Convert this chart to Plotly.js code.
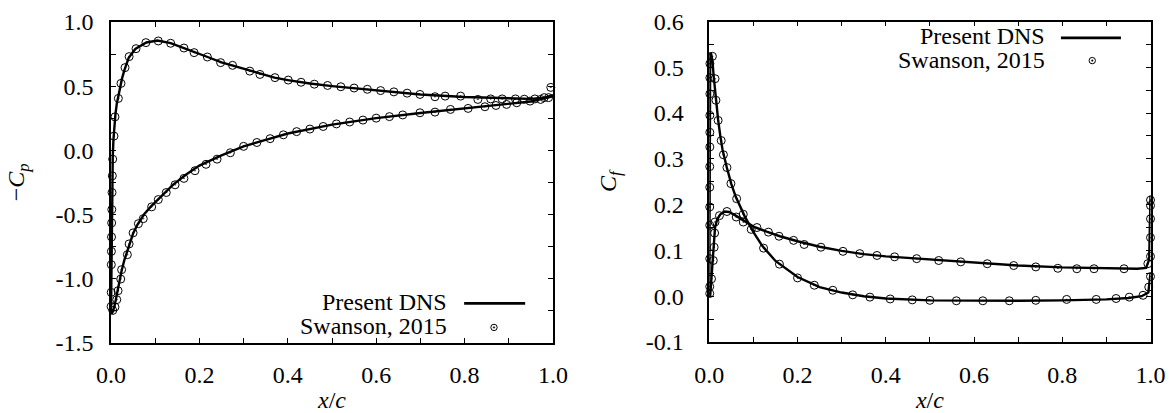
<!DOCTYPE html>
<html>
<head>
<meta charset="utf-8">
<script src="https://cdn.plot.ly/plotly-3.0.1.min.js"></script>
<style>
html,body{margin:0;padding:0;background:#fff;}
#chart text, #chart tspan { font-family: "Liberation Serif", "Times New Roman", serif !important; }
</style>
</head>
<body>
<div id="chart" style="width:1169px;height:413px"></div>
<script>
// ---------- Left panel: -Cp ----------
const cpUpperX = [0, 0.0003, 0.0006, 0.001, 0.0015, 0.0022, 0.003, 0.004, 0.0055, 0.0075, 0.01, 0.013, 0.017, 0.02, 0.025, 0.03, 0.04, 0.055, 0.08, 0.105, 0.135, 0.165, 0.19, 0.22, 0.25, 0.28, 0.31, 0.34, 0.37, 0.4, 0.45, 0.5, 0.6, 0.7, 0.8, 0.9, 0.95, 0.98, 1.0];
const cpUpperV = [-1.27, -1.15, -0.95, -0.75, -0.55, -0.35, -0.18, -0.05, 0.08, 0.18, 0.28, 0.36, 0.43, 0.48, 0.56, 0.62, 0.72, 0.79, 0.84, 0.855, 0.835, 0.797, 0.762, 0.725, 0.685, 0.655, 0.62, 0.59, 0.566, 0.547, 0.52, 0.5, 0.465, 0.435, 0.415, 0.402, 0.40, 0.41, 0.43];
const cpLowerX = [0, 0.002, 0.004, 0.006, 0.009, 0.013, 0.018, 0.024, 0.03, 0.04, 0.05, 0.06, 0.075, 0.09, 0.11, 0.14, 0.17, 0.2, 0.25, 0.3, 0.35, 0.4, 0.5, 0.6, 0.7, 0.8, 0.9, 0.95, 1.0];
const cpLowerV = [-1.27, -1.27, -1.26, -1.24, -1.2, -1.13, -1.03, -0.94, -0.86, -0.75, -0.65, -0.58, -0.5, -0.44, -0.37, -0.27, -0.19, -0.12, -0.04, 0.03, 0.08, 0.13, 0.2, 0.25, 0.29, 0.325, 0.36, 0.38, 0.42];

const swCpUpperX = [0.0002, 0.0004, 0.0007, 0.0009, 0.0012, 0.0015, 0.0018, 0.0023, 0.003, 0.0038, 0.0068, 0.009, 0.0166, 0.0226, 0.0317, 0.041, 0.0566, 0.079, 0.107, 0.135, 0.165, 0.188, 0.218, 0.248, 0.275, 0.314, 0.337, 0.371, 0.401, 0.43, 0.46, 0.49, 0.52, 0.55, 0.58, 0.61, 0.64, 0.67, 0.699, 0.733, 0.756, 0.791, 0.83, 0.859, 0.885, 0.915, 0.935, 0.959, 0.98, 0.995];
const swCpUpperV = [-1.219, -1.109, -0.893, -0.789, -0.677, -0.567, -0.463, -0.33, -0.2, -0.07, 0.11, 0.26, 0.404, 0.521, 0.644, 0.73, 0.792, 0.839, 0.852, 0.834, 0.797, 0.761, 0.727, 0.683, 0.662, 0.617, 0.591, 0.566, 0.547, 0.53, 0.515, 0.505, 0.495, 0.485, 0.475, 0.465, 0.455, 0.445, 0.435, 0.417, 0.422, 0.422, 0.396, 0.40, 0.40, 0.40, 0.398, 0.40, 0.41, 0.49];
const swCpLowerX = [0.004, 0.009, 0.013, 0.016, 0.022, 0.024, 0.037, 0.041, 0.05, 0.062, 0.073, 0.092, 0.107, 0.125, 0.145, 0.165, 0.19, 0.215, 0.24, 0.27, 0.3, 0.33, 0.36, 0.39, 0.42, 0.45, 0.48, 0.51, 0.54, 0.57, 0.6, 0.63, 0.66, 0.699, 0.733, 0.768, 0.808, 0.846, 0.871, 0.895, 0.918, 0.948, 0.972, 0.99];
const swCpLowerV = [-1.25, -1.223, -1.166, -1.096, -1.005, -0.932, -0.815, -0.731, -0.645, -0.573, -0.534, -0.442, -0.385, -0.33, -0.27, -0.22, -0.16, -0.11, -0.07, -0.02, 0.03, 0.06, 0.09, 0.12, 0.145, 0.165, 0.185, 0.205, 0.22, 0.235, 0.25, 0.262, 0.275, 0.292, 0.297, 0.318, 0.326, 0.339, 0.349, 0.357, 0.37, 0.383, 0.396, 0.41];

// ---------- Right panel: Cf ----------
const cfAX = [0, 0.0004, 0.0008, 0.0013, 0.002, 0.004, 0.007, 0.01, 0.015, 0.02, 0.025, 0.03, 0.04, 0.05, 0.06, 0.08, 0.1, 0.12, 0.15, 0.2, 0.25, 0.3, 0.35, 0.4, 0.5, 0.6, 0.7, 0.8, 0.9, 0.95, 0.98, 0.995, 1.0];
const cfAV = [0.0, 0.1, 0.25, 0.45, 0.53, 0.53, 0.515, 0.48, 0.43, 0.385, 0.35, 0.32, 0.28, 0.245, 0.217, 0.175, 0.14, 0.11, 0.077, 0.042, 0.02, 0.008, 0.0, -0.005, -0.009, -0.01, -0.01, -0.009, -0.007, -0.004, 0.0, 0.008, 0.05];
const cfBX = [0.002, 0.004, 0.006, 0.008, 0.01, 0.013, 0.018, 0.025, 0.035, 0.045, 0.06, 0.08, 0.1, 0.13, 0.16, 0.2, 0.25, 0.3, 0.35, 0.4, 0.5, 0.6, 0.7, 0.8, 0.9, 0.97, 0.99, 0.997, 1.0];
const cfBV = [0.0, 0.03, 0.06, 0.09, 0.12, 0.15, 0.168, 0.179, 0.185, 0.184, 0.176, 0.163, 0.152, 0.141, 0.131, 0.12, 0.108, 0.099, 0.092, 0.087, 0.08, 0.073, 0.067, 0.063, 0.061, 0.06, 0.062, 0.08, 0.22];

const swCfAX = [0.001, 0.001, 0.001, 0.001, 0.001, 0.001, 0.001, 0.0012, 0.0012, 0.0012, 0.0013, 0.0013, 0.0014, 0.007, 0.013, 0.015, 0.02, 0.027, 0.032, 0.04, 0.049, 0.062, 0.077, 0.095, 0.123, 0.159, 0.2, 0.238, 0.28, 0.325, 0.364, 0.41, 0.46, 0.5, 0.56, 0.62, 0.68, 0.74, 0.81, 0.877, 0.922, 0.952, 0.983, 0.996, 1.0];
const swCfAV = [0.006, 0.021, 0.082, 0.155, 0.195, 0.238, 0.283, 0.326, 0.358, 0.395, 0.442, 0.477, 0.508, 0.524, 0.475, 0.428, 0.384, 0.34, 0.309, 0.281, 0.246, 0.213, 0.179, 0.146, 0.105, 0.07, 0.04, 0.024, 0.013, 0.003, -0.002, -0.006, -0.008, -0.009, -0.01, -0.01, -0.01, -0.009, -0.007, -0.007, -0.005, -0.002, 0.002, 0.02, 0.043];
const swCfBX = [0.005, 0.009, 0.011, 0.012, 0.013, 0.023, 0.04, 0.061, 0.077, 0.108, 0.134, 0.158, 0.191, 0.215, 0.253, 0.303, 0.341, 0.38, 0.42, 0.47, 0.52, 0.57, 0.63, 0.69, 0.74, 0.79, 0.833, 0.872, 0.94, 0.994, 1.0, 1.0, 1.0, 1.0, 1.0];
const swCfBV = [0.038, 0.078, 0.107, 0.138, 0.162, 0.176, 0.185, 0.173, 0.162, 0.15, 0.14, 0.131, 0.122, 0.113, 0.107, 0.098, 0.093, 0.089, 0.086, 0.082, 0.078, 0.075, 0.071, 0.067, 0.064, 0.061, 0.06, 0.06, 0.06, 0.071, 0.087, 0.128, 0.169, 0.198, 0.21];

// ---------- Ticks ----------
const xTickVals = [0, 0.2, 0.4, 0.6, 0.8, 1.0];
const xTickText = ["0.0", "0.2", "0.4", "0.6", "0.8", "1.0"];
const xMinorVals = [0.1, 0.3, 0.5, 0.7, 0.9];
const cpTickVals = [-1.5, -1.0, -0.5, 0, 0.5, 1.0];
const cpTickText = ["-1.5", "-1.0", "-0.5", "0.0", "0.5", "1.0"];
const cpMinorVals = [-1.25, -0.75, -0.25, 0.25, 0.75];
const cfTickVals = [-0.1, 0, 0.1, 0.2, 0.3, 0.4, 0.5, 0.6];
const cfTickText = ["-0.1", "0.0", "0.1", "0.2", "0.3", "0.4", "0.5", "0.6"];
const cfMinorVals = [-0.05, 0.05, 0.15, 0.25, 0.35, 0.45, 0.55];

const legendNames = ["Present DNS", "Swanson, 2015"];

(function () {
  var serif = "Liberation Serif";
  var lineStyle = {color: "#000", width: 2.4};
  var markStyle = {symbol: "circle-open-dot", size: 8, color: "#000", line: {color: "#000", width: 1}};
  function f24() { return {family: serif, size: 24, color: "#000"}; }

  var traces = [
    {x: cpUpperX, y: cpUpperV, xaxis: "x", yaxis: "y", mode: "lines", line: lineStyle, name: legendNames[0]},
    {x: cpLowerX, y: cpLowerV, xaxis: "x", yaxis: "y", mode: "lines", line: lineStyle, name: legendNames[0]},
    {x: swCpUpperX, y: swCpUpperV, xaxis: "x", yaxis: "y", mode: "markers", marker: markStyle, cliponaxis: false, name: legendNames[1]},
    {x: swCpLowerX, y: swCpLowerV, xaxis: "x", yaxis: "y", mode: "markers", marker: markStyle, cliponaxis: false, name: legendNames[1]},
    {x: cfAX, y: cfAV, xaxis: "x2", yaxis: "y2", mode: "lines", line: lineStyle, name: legendNames[0]},
    {x: cfBX, y: cfBV, xaxis: "x2", yaxis: "y2", mode: "lines", line: lineStyle, name: legendNames[0]},
    {x: swCfAX, y: swCfAV, xaxis: "x2", yaxis: "y2", mode: "markers", marker: markStyle, cliponaxis: false, name: legendNames[1]},
    {x: swCfBX, y: swCfBV, xaxis: "x2", yaxis: "y2", mode: "markers", marker: markStyle, cliponaxis: false, name: legendNames[1]}
  ];

  function minorOf(vals) {
    return {tickmode: "array", tickvals: vals, ticks: "inside", ticklen: 5, tickwidth: 1.2, tickcolor: "#000", showgrid: false};
  }
  function axis(extra) {
    var a = {
      showgrid: false, zeroline: false, showline: true, linecolor: "#000", linewidth: 1.5,
      mirror: "allticks", ticks: "inside", ticklen: 5, tickwidth: 1.2, tickcolor: "#000",
      tickfont: f24(), tickmode: "array", automargin: false, fixedrange: true
    };
    for (var k in extra) a[k] = extra[k];
    return a;
  }

  var mL = 50, mR = 15, mT = 15, mB = 65, width = 1169, height = 413;
  var pw = width - mL - mR, ph = height - mT - mB;
  function xd(a, b) { return [(a - mL) / pw, (b - mL) / pw]; }
  function yd(top, bot) { return [(height - mB - bot) / ph, (height - mB - top) / ph]; }

  var layout = {
    width: width, height: height,
    margin: {l: mL, r: mR, t: mT, b: mB},
    paper_bgcolor: "#fff", plot_bgcolor: "#fff",
    showlegend: false,
    font: {family: serif, size: 24, color: "#000"},
    xaxis: axis({
      domain: xd(111, 553), range: [0, 1], anchor: "y",
      tickvals: xTickVals, ticktext: xTickText, ticklabelstandoff: 10, minor: minorOf(xMinorVals),
      title: {text: "<i>x</i>/<i>c</i>", font: f24(), standoff: 12}
    }),
    yaxis: axis({
      domain: yd(22, 342.5), range: [-1.5, 1], anchor: "x",
      tickvals: cpTickVals, ticktext: cpTickText, ticklabelstandoff: 11, minor: minorOf(cpMinorVals),
      title: {text: "\u2212<i>C<sub>p</sub></i>", font: f24(), standoff: 24}
    }),
    xaxis2: axis({
      domain: xd(709.3, 1150.5), range: [0, 1], anchor: "y2",
      tickvals: xTickVals, ticktext: xTickText, ticklabelstandoff: 10, minor: minorOf(xMinorVals),
      title: {text: "<i>x</i>/<i>c</i>", font: f24(), standoff: 12}
    }),
    yaxis2: axis({
      domain: yd(21.5, 342), range: [-0.1, 0.6], anchor: "x2",
      tickvals: cfTickVals, ticktext: cfTickText, ticklabelstandoff: 19, minor: minorOf(cfMinorVals),
      title: {text: "<i>C<sub>f</sub></i>", font: f24(), standoff: 22}
    }),
    annotations: [
      {xref: "x domain", yref: "y domain", x: 0.765, y: 0.127, xanchor: "right", yanchor: "middle", showarrow: false, text: legendNames[0], font: f24()},
      {xref: "x domain", yref: "y domain", x: 0.765, y: 0.052, xanchor: "right", yanchor: "middle", showarrow: false, text: legendNames[1], font: f24()},
      {xref: "x2 domain", yref: "y2 domain", x: 0.766, y: 0.956, xanchor: "right", yanchor: "middle", showarrow: false, text: legendNames[0], font: f24()},
      {xref: "x2 domain", yref: "y2 domain", x: 0.766, y: 0.881, xanchor: "right", yanchor: "middle", showarrow: false, text: legendNames[1], font: f24()}
    ],
    shapes: [
      {type: "line", xref: "x domain", yref: "y domain", x0: 0.799, x1: 0.937, y0: 0.122, y1: 0.122, line: {color: "#000", width: 2.6}},
      {type: "circle", xref: "x domain", yref: "y domain", xsizemode: "pixel", ysizemode: "pixel", xanchor: 0.8665, yanchor: 0.047, x0: -3.2, x1: 3.2, y0: -3.2, y1: 3.2, line: {color: "#000", width: 1}},
      {type: "circle", xref: "x domain", yref: "y domain", xsizemode: "pixel", ysizemode: "pixel", xanchor: 0.8665, yanchor: 0.047, x0: -0.8, x1: 0.8, y0: -0.8, y1: 0.8, fillcolor: "#000", line: {color: "#000", width: 0.5}},
      {type: "line", xref: "x2 domain", yref: "y2 domain", x0: 0.797, x1: 0.933, y0: 0.949, y1: 0.949, line: {color: "#000", width: 2.6}},
      {type: "circle", xref: "x2 domain", yref: "y2 domain", xsizemode: "pixel", ysizemode: "pixel", xanchor: 0.868, yanchor: 0.878, x0: -3.2, x1: 3.2, y0: -3.2, y1: 3.2, line: {color: "#000", width: 1}},
      {type: "circle", xref: "x2 domain", yref: "y2 domain", xsizemode: "pixel", ysizemode: "pixel", xanchor: 0.868, yanchor: 0.878, x0: -0.8, x1: 0.8, y0: -0.8, y1: 0.8, fillcolor: "#000", line: {color: "#000", width: 0.5}}
    ]
  };

  Plotly.newPlot("chart", traces, layout, {displayModeBar: false});
})();
</script>
</body>
</html>
